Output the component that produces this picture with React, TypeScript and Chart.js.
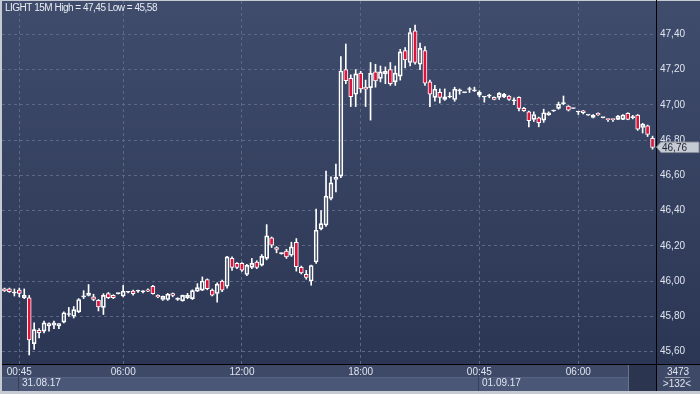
import React, { useEffect, useRef } from 'react';
import { Chart, registerables } from 'chart.js';

Chart.register(...registerables);

// ---- DATA (15-minute candles, 132 bars) ----
const opens = [
  45.955, 45.955, 45.932, 45.948, 45.905, 45.905, 45.645, 45.72, 45.716, 45.745,
  45.75, 45.745, 45.767, 45.81, 45.80, 45.825, 45.91, 45.918, 45.91, 45.89,
  45.85, 45.928, 45.918, 45.928, 45.915, 45.936, 45.943, 45.942, 45.938, 45.95,
  45.97, 45.918, 45.895, 45.895, 45.928, 45.896, 45.888, 45.905, 45.90, 45.943,
  45.948, 46.008, 45.948, 45.929, 45.999, 45.97, 46.128, 46.10, 46.10, 46.037,
  46.077, 46.108, 46.09, 46.128, 46.245, 46.19, 46.155, 46.17, 46.146, 46.22,
  46.077, 46.038, 46.0, 46.108, 46.296, 46.318, 46.468, 46.576, 46.595, 47.20,
  47.15, 47.06, 47.18, 47.10, 47.097, 47.187, 47.15, 47.175, 47.20, 47.13,
  47.163, 47.307, 47.24, 47.42, 47.23, 47.307, 47.13, 47.042, 47.07, 47.03,
  47.044, 47.03, 47.079, 47.069, 47.087, 47.079, 47.055, 47.044, 47.049, 47.042,
  47.042, 47.045, 47.05, 47.022, 47.042, 46.98, 46.96, 46.917, 46.926, 46.913,
  46.942, 46.965, 46.98, 47.007, 46.993, 46.979, 46.959, 46.966, 46.941, 46.928,
  46.952, 46.927, 46.918, 46.918, 46.917, 46.917, 46.952, 46.927, 46.942, 46.871,
  46.88, 46.81,
];
const highs = [
  45.96, 45.96, 45.955, 45.96, 45.955, 45.918, 45.762, 45.73, 45.773, 45.762,
  45.773, 45.758, 45.825, 45.85, 45.855, 45.90, 45.945, 45.98, 45.925, 45.895,
  45.928, 45.935, 45.922, 45.932, 45.975, 45.942, 45.948, 45.948, 45.945, 45.955,
  45.975, 45.922, 45.915, 45.93, 45.932, 45.905, 45.92, 45.93, 45.95, 45.985,
  46.023, 46.012, 45.955, 45.99, 46.005, 46.14, 46.137, 46.105, 46.105, 46.095,
  46.128, 46.115, 46.15, 46.32, 46.25, 46.195, 46.16, 46.18, 46.22, 46.241,
  46.085, 46.06, 46.09, 46.408, 46.40, 46.624, 46.591, 46.663, 47.273, 47.345,
  47.17, 47.20, 47.19, 47.14, 47.24, 47.23, 47.22, 47.215, 47.24, 47.22,
  47.315, 47.325, 47.434, 47.453, 47.35, 47.33, 47.14, 47.11, 47.09, 47.09,
  47.07, 47.10, 47.09, 47.071, 47.10, 47.10, 47.08, 47.046, 47.06, 47.045,
  47.07, 47.065, 47.052, 47.04, 47.045, 46.985, 46.965, 46.96, 46.93, 46.975,
  46.96, 46.97, 47.015, 47.05, 46.995, 46.981, 46.962, 46.968, 46.943, 46.945,
  46.955, 46.929, 46.92, 46.92, 46.94, 46.945, 46.955, 46.94, 46.945, 46.895,
  46.885, 46.822,
];
const lows = [
  45.94, 45.935, 45.915, 45.91, 45.90, 45.58, 45.612, 45.677, 45.705, 45.716,
  45.73, 45.73, 45.762, 45.80, 45.79, 45.82, 45.90, 45.915, 45.888, 45.83,
  45.81, 45.90, 45.90, 45.926, 45.91, 45.932, 45.92, 45.935, 45.932, 45.94,
  45.925, 45.905, 45.89, 45.89, 45.91, 45.89, 45.885, 45.90, 45.895, 45.94,
  45.945, 45.95, 45.915, 45.88, 45.94, 45.96, 46.06, 46.07, 46.055, 46.03,
  46.07, 46.07, 46.085, 46.12, 46.19, 46.16, 46.152, 46.128, 46.14, 46.056,
  46.04, 46.01, 45.976, 46.10, 46.29, 46.31, 46.46, 46.506, 46.586, 47.12,
  46.99, 46.99, 47.07, 46.99, 46.913, 47.10, 47.13, 47.12, 47.11, 47.11,
  47.14, 47.21, 47.22, 47.23, 47.20, 47.11, 46.99, 47.02, 47.01, 47.025,
  47.04, 47.02, 47.06, 47.068, 47.07, 47.075, 47.045, 47.015, 47.04, 47.028,
  47.03, 47.04, 47.025, 47.0, 46.965, 46.962, 46.875, 46.905, 46.875, 46.90,
  46.94, 46.962, 46.975, 47.0, 46.965, 46.978, 46.945, 46.948, 46.94, 46.925,
  46.94, 46.926, 46.905, 46.905, 46.915, 46.915, 46.915, 46.92, 46.855, 46.84,
  46.82, 46.748,
];
const closes = [
  45.945, 45.94, 45.932, 45.93, 45.918, 45.665, 45.724, 45.707, 45.762, 45.758,
  45.762, 45.758, 45.82, 45.812, 45.838, 45.895, 45.912, 45.932, 45.895, 45.853,
  45.918, 45.905, 45.905, 45.93, 45.943, 45.938, 45.928, 45.944, 45.94, 45.943,
  45.928, 45.91, 45.913, 45.925, 45.918, 45.898, 45.918, 45.918, 45.945, 45.962,
  46.00, 45.957, 45.92, 45.982, 45.948, 46.137, 46.077, 46.077, 46.061, 46.089,
  46.10, 46.077, 46.14, 46.256, 46.203, 46.179, 46.157, 46.137, 46.194, 46.082,
  46.046, 46.02, 46.088, 46.288, 46.326, 46.482, 46.557, 46.588, 47.192, 47.137,
  47.046, 47.175, 47.09, 47.088, 47.178, 47.135, 47.187, 47.19, 47.12, 47.18,
  47.30, 47.254, 47.41, 47.24, 47.32, 47.122, 47.06, 47.088, 47.042, 47.045,
  47.046, 47.088, 47.081, 47.071, 47.089, 47.081, 47.07, 47.046, 47.051, 47.03,
  47.065, 47.06, 47.03, 47.024, 46.98, 46.966, 46.91, 46.945, 46.898, 46.955,
  46.955, 46.967, 47.004, 47.009, 46.97, 46.981, 46.961, 46.955, 46.943, 46.942,
  46.942, 46.929, 46.916, 46.916, 46.936, 46.942, 46.917, 46.929, 46.861, 46.89,
  46.832, 46.758,
];

const xTickIndex = [3, 24, 48, 72, 96, 116];
const xTickText = ['00:45', '06:00', '12:00', '18:00', '00:45', '06:00'];
const dateIndex = [3, 96];
const dateText = ['31.08.17', '01.09.17'];
const yTicks = [45.6, 45.8, 46.0, 46.2, 46.4, 46.6, 46.8, 47.0, 47.2, 47.4];
const yMin = 45.529;
const yMax = 47.589;
const titleText = 'LIGHT 15M High = 47,45 Low = 45,58';
const lastPrice = 46.76;
const infoTop = '3473';
const infoBottom = '>132<';

// ---- STYLE ----
const W = 700;
const H = 394;
const FONT = '"Liberation Sans", Arial, sans-serif';
const RED = '#dc143c';
const GRID = '#5b6886';
const TEXT = '#dfe5ef';
const fmt = (v: number) => v.toFixed(2).replace('.', ',');

const framePlugin = {
  id: 'frame',
  beforeDraw(chart: any) {
    const ctx = chart.ctx as CanvasRenderingContext2D;
    ctx.save();
    ctx.fillStyle = '#c6cad2';
    ctx.fillRect(0, 0, W, H);
    const g = ctx.createLinearGradient(0, 1, 0, 364);
    g.addColorStop(0, '#404c6c');
    g.addColorStop(1, '#2b3654');
    ctx.fillStyle = g;
    ctx.fillRect(2, 1, W - 2, 363);
    // x label row
    ctx.fillStyle = '#3d4966';
    ctx.fillRect(2, 365, 627, 12);
    // date row
    ctx.fillStyle = '#4a5777';
    ctx.fillRect(2, 377, 627, 14);
    ctx.fillStyle = '#56627f';
    ctx.fillRect(2, 377, 627, 1);
    // dark box
    ctx.fillStyle = '#2b3550';
    ctx.fillRect(629, 365, 27, 26);
    ctx.fillStyle = '#6a7489';
    ctx.fillRect(628, 365, 1, 26);
    // right info box
    ctx.fillStyle = '#3d4966';
    ctx.fillRect(657, 365, W - 657, 26);
    ctx.restore();
  },
  afterDraw(chart: any) {
    const ctx = chart.ctx as CanvasRenderingContext2D;
    const xs = chart.scales.x;
    const ys = chart.scales.y;
    ctx.save();
    // separators
    ctx.fillStyle = '#000000';
    ctx.fillRect(656, 0, 1, 391);
    ctx.fillRect(2, 364, W - 2, 1);
    // date row
    ctx.font = `10px ${FONT}`;
    ctx.textBaseline = 'alphabetic';
    ctx.textAlign = 'left';
    dateIndex.forEach((idx, k) => {
      const px = Math.round(xs.getPixelForValue(idx)) - 1;
      ctx.fillStyle = '#35405c';
      ctx.fillRect(px, 377, 1, 14);
      ctx.fillStyle = TEXT;
      ctx.fillText(dateText[k], px + 4, 386);
    });
    // info box
    ctx.textAlign = 'center';
    ctx.fillStyle = TEXT;
    ctx.fillText(infoTop, 678, 375);
    ctx.fillText(infoBottom, 677, 387);
    ctx.fillStyle = '#8f98ab';
    ctx.fillRect(665, 377, 25, 1);
    // price tag
    const py = ys.getPixelForValue(lastPrice);
    ctx.beginPath();
    ctx.moveTo(656.5, py);
    ctx.lineTo(661, py - 5);
    ctx.lineTo(W - 1, py - 5);
    ctx.lineTo(W - 1, py + 5.5);
    ctx.lineTo(661, py + 5.5);
    ctx.closePath();
    ctx.fillStyle = '#c5cad3';
    ctx.fill();
    ctx.strokeStyle = '#8a909c';
    ctx.lineWidth = 1;
    ctx.stroke();
    ctx.fillStyle = '#1b2130';
    ctx.textAlign = 'left';
    ctx.fillText(fmt(lastPrice), 662, py + 3.6);
    // title
    ctx.fillStyle = '#e9edf3';
    (ctx as any).letterSpacing = '-0.5px';
    ctx.fillText(titleText, 5, 11);
    ctx.restore();
  },
};

export default function App() {
  const ref = useRef<HTMLCanvasElement>(null);

  useEffect(() => {
    const canvas = ref.current;
    if (!canvas) return;
    const labels = opens.map((_, i) => String(i + 1));
    const bodies = opens.map((o, i) => [o, closes[i]]);
    const upperWicks = opens.map((o, i) => [Math.max(o, closes[i]), highs[i]]);
    const lowerWicks = opens.map((o, i) => [lows[i], Math.min(o, closes[i])]);
    const bodyFill = opens.map((o, i) => (closes[i] < o ? RED : 'rgba(0,0,0,0)'));

    const chart = new Chart(canvas, {
      type: 'bar',
      data: {
        labels,
        datasets: [
          {
            data: bodies as any,
            backgroundColor: bodyFill,
            borderColor: '#ffffff',
            borderWidth: 1,
            borderSkipped: false,
            barThickness: 4,
            minBarLength: 1,
            grouped: false,
          } as any,
          {
            data: upperWicks as any,
            backgroundColor: '#ffffff',
            borderWidth: 0,
            barThickness: 1,
            grouped: false,
          } as any,
          {
            data: lowerWicks as any,
            backgroundColor: '#ffffff',
            borderWidth: 0,
            barThickness: 1,
            grouped: false,
          } as any,
        ],
      },
      options: {
        responsive: false,
        animation: false,
        devicePixelRatio: 1,
        events: [],
        layout: { padding: { left: 2, top: 1, right: 0, bottom: 0 } },
        plugins: {
          legend: { display: false },
          tooltip: { enabled: false },
          title: { display: false },
        },
        scales: {
          x: {
            type: 'category',
            offset: true,
            afterFit: (s: any) => {
              s.height = 30;
              s.paddingLeft = 0;
              s.paddingRight = 0;
            },
            grid: {
              offset: false,
              drawTicks: false,
              lineWidth: 1,
              color: (c: any) => (xTickIndex.includes(c.index) ? GRID : 'rgba(0,0,0,0)'),
            },
            border: { display: false, dash: [3, 3] },
            ticks: {
              autoSkip: false,
              maxRotation: 0,
              minRotation: 0,
              padding: 2,
              color: TEXT,
              font: { family: FONT, size: 10 },
              callback: (_v: any, index: number) => {
                const k = xTickIndex.indexOf(index);
                return k >= 0 ? xTickText[k] : '';
              },
            },
          },
          y: {
            type: 'linear',
            position: 'right',
            min: yMin,
            max: yMax,
            afterFit: (s: any) => {
              s.width = 45;
              s.paddingTop = 0;
              s.paddingBottom = 0;
            },
            afterBuildTicks: (s: any) => {
              s.ticks = yTicks.map((v) => ({ value: v }));
            },
            grid: { drawTicks: false, color: GRID, lineWidth: 1 },
            border: { display: false, dash: [3, 3] },
            ticks: {
              padding: 5,
              color: TEXT,
              font: { family: FONT, size: 10 },
              callback: (v: any) => fmt(Number(v)),
            },
          },
        },
      } as any,
      plugins: [framePlugin],
    });
    return () => chart.destroy();
  }, []);

  return (
    <div style={{ position: 'absolute', left: 0, top: 0, width: W, height: H }}>
      <canvas ref={ref} width={W} height={H} style={{ display: 'block', width: W, height: H }} />
    </div>
  );
}
